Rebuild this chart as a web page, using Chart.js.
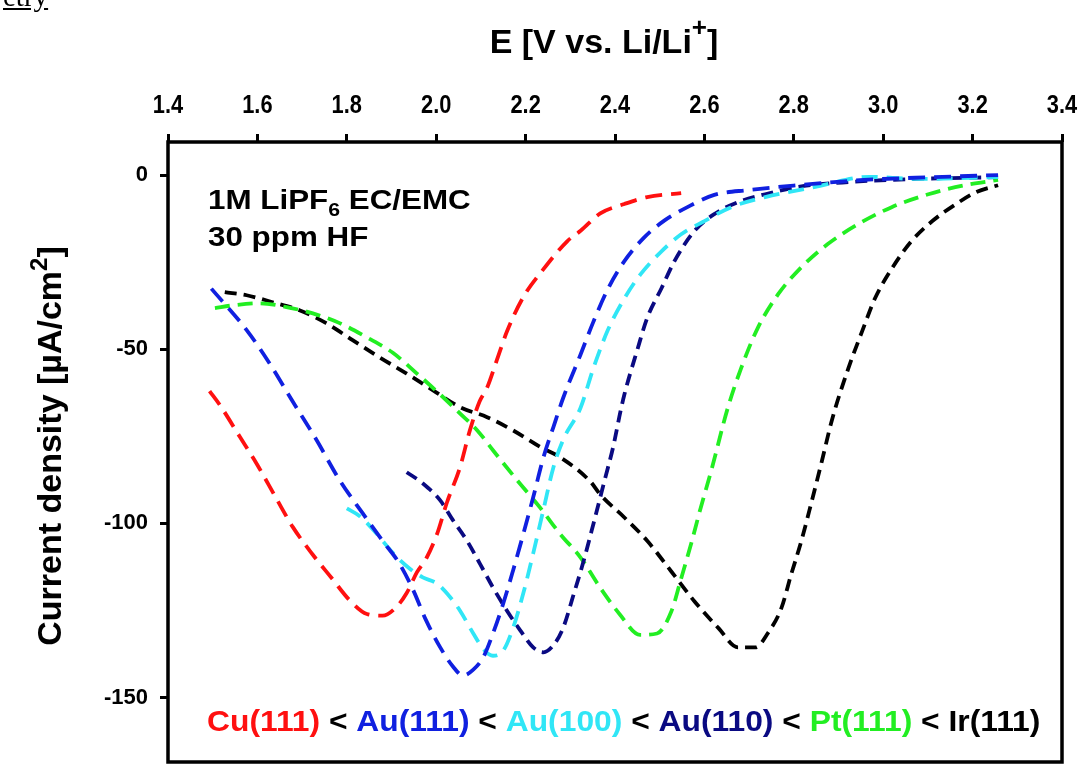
<!DOCTYPE html>
<html>
<head>
<meta charset="utf-8">
<script src="https://cdn.jsdelivr.net/npm/chart.js@4.4.1/dist/chart.umd.min.js"></script>
<style>
  html, body { margin: 0; padding: 0; background: #fff; }
  #wrap { position: relative; width: 1084px; height: 766px; overflow: hidden; }
  #clip { position: absolute; left: 3px; top: -19px; font: 29px/30px 'Liberation Serif', serif; text-decoration: underline; }
</style>
</head>
<body>
<div id="wrap">
  <canvas id="cv" width="1084" height="766"></canvas>
  <div id="clip">etry</div>
</div>
<script>
// Linear sweep voltammetry, HF reduction on single crystal electrodes
// values: E in V vs Li/Li+, j in uA/cm2

const X_TICKS = [1.4, 1.6, 1.8, 2.0, 2.2, 2.4, 2.6, 2.8, 3.0, 3.2, 3.4];
const Y_TICKS = [0, -50, -100, -150];

const E_CU = [1.493, 1.516, 1.560, 1.599, 1.643, 1.679, 1.724, 1.768, 1.806, 1.845, 1.880, 1.911, 1.934, 1.957, 1.978, 2.002, 2.024, 2.053, 2.076, 2.097, 2.114, 2.136, 2.158, 2.195, 2.240, 2.293, 2.323, 2.367, 2.421, 2.472, 2.548];
const J_CU = [-62, -66, -75, -83, -93, -101, -109, -116, -122, -126, -126.5, -124, -120, -114, -110, -103, -94, -84, -73, -65, -61, -53, -45, -35, -27, -19, -16, -11, -8.3, -6.3, -5.2];

const E_AU111 = [1.497, 1.576, 1.627, 1.679, 1.732, 1.784, 1.835, 1.880, 1.918, 1.948, 1.978, 2.009, 2.037, 2.060, 2.083, 2.105, 2.127, 2.150, 2.172, 2.195, 2.217, 2.240, 2.262, 2.284, 2.323, 2.352, 2.384, 2.421, 2.466, 2.511, 2.562, 2.622, 2.698, 2.809, 2.957, 3.110, 3.257];
const J_AU111 = [-32.6, -44.5, -54, -65, -76, -87.6, -97, -105, -111.6, -119, -128, -135.6, -141, -143.7, -142, -138.5, -131.6, -123, -113.5, -103, -92.5, -81, -72.4, -64, -51.5, -42, -32.7, -24.7, -17.8, -13, -9.2, -5.7, -4.3, -2.9, -1.4, -0.6, 0];

const E_AU100 = [1.800, 1.830, 1.867, 1.904, 1.941, 1.970, 2.002, 2.030, 2.053, 2.083, 2.105, 2.127, 2.150, 2.172, 2.195, 2.217, 2.240, 2.262, 2.284, 2.323, 2.352, 2.384, 2.421, 2.457, 2.504, 2.548, 2.600, 2.660, 2.736, 2.848, 2.968, 3.074, 3.257];
const J_AU100 = [-95.7, -98, -103, -108.6, -113, -115.5, -117.3, -121, -125, -131.6, -136, -138, -136.5, -130, -120, -108.6, -96, -84, -76, -66.8, -55.3, -44.5, -35.4, -28.5, -21.9, -17, -13.2, -9.2, -6.3, -3.4, -0.5, -1.1, -0.6];

const E_AU110 = [1.934, 1.970, 2.009, 2.037, 2.069, 2.098, 2.127, 2.158, 2.188, 2.217, 2.240, 2.262, 2.284, 2.306, 2.328, 2.352, 2.378, 2.396, 2.412, 2.421, 2.451, 2.472, 2.504, 2.533, 2.578, 2.622, 2.675, 2.736, 2.809, 2.922, 3.074, 3.257];
const J_AU110 = [-85.3, -88.5, -93.4, -99, -105, -111.6, -118.4, -125, -130.7, -135.6, -137, -135, -130, -121, -111.6, -100, -87, -78, -68, -63, -49.7, -41, -32.5, -24.7, -16, -11.2, -7.8, -5.5, -3.4, -2, -1.1, -0.6];

const E_PT = [1.505, 1.545, 1.605, 1.665, 1.724, 1.784, 1.845, 1.903, 1.957, 2.009, 2.053, 2.092, 2.127, 2.181, 2.232, 2.277, 2.323, 2.367, 2.410, 2.456, 2.494, 2.526, 2.548, 2.570, 2.592, 2.615, 2.652, 2.682, 2.719, 2.765, 2.815, 2.876, 2.945, 3.019, 3.101, 3.183, 3.257];
const J_PT = [-38.2, -37.4, -36.8, -37.9, -39.7, -42.5, -46.6, -51, -57, -63, -68.4, -73.3, -79, -87.6, -95.4, -103, -109.8, -118.5, -126, -132, -131.6, -125.3, -115.8, -106, -95.4, -85, -67, -55.5, -44, -34.2, -26.7, -19.8, -14, -9.2, -5.5, -2.9, -1.4];

const E_IR = [1.527, 1.576, 1.634, 1.694, 1.754, 1.813, 1.873, 1.934, 1.993, 2.053, 2.114, 2.172, 2.232, 2.277, 2.345, 2.367, 2.421, 2.472, 2.526, 2.578, 2.631, 2.675, 2.714, 2.743, 2.772, 2.794, 2.817, 2.840, 2.863, 2.886, 2.922, 2.953, 2.982, 3.020, 3.063, 3.110, 3.163, 3.208, 3.257];
const J_IR = [-33.6, -34.5, -36.5, -38.8, -42.5, -47.4, -52.3, -57, -61.8, -66.6, -69.5, -73.3, -78, -81, -88, -91.7, -98.3, -105, -113.8, -122.4, -130, -135.6, -135.6, -131.3, -124.4, -114.7, -105, -93.7, -82, -70, -55.5, -44.8, -35.3, -26.7, -19, -13.2, -8.3, -4.9, -2.9];

const LEGEND = ['Cu(111)', 'Au(111)', 'Au(100)', 'Au(110)', 'Pt(111)', 'Ir(111)'];
const COLORS = ['#ff1010', '#1020e0', '#30e6f6', '#0a0a82', '#22ee22', '#000000'];

function pts(xs, ys){
  return xs.map((x, i) => ({ x, y: ys[i] }));
}

function curve(i, xs, ys, dash){
  return {
    label: LEGEND[i],
    data: pts(xs, ys),
    borderColor: COLORS[i],
    borderWidth: 3.8,
    borderDash: dash,
    pointRadius: 0,
    showLine: true,
    fill: false,
    cubicInterpolationMode: 'monotone'
  };
}

const SANS = "'Liberation Sans', Arial, sans-serif";

// write text stretched horizontally by sx, returns advance
function stretched(ctx, text, x, y, font, sx){
  ctx.font = font;
  ctx.save();
  ctx.translate(x, y);
  ctx.scale(sx, 1);
  ctx.fillText(text, 0, 0);
  ctx.restore();
  return ctx.measureText(text).width * sx;
}

// frame + text that chart.js can't do (sub/superscripts, coloured ordering line)
const decor = {
  id: 'decor',
  afterDraw(chart){
    const ctx = chart.ctx;
    const a = chart.chartArea;
    ctx.save();
    ctx.strokeStyle = '#000';
    ctx.lineWidth = 3.5;
    ctx.strokeRect(a.left, a.top, a.right - a.left, a.bottom - a.top);

    ctx.fillStyle = '#000';
    ctx.textBaseline = 'alphabetic';

    // x tick labels, a bit condensed like the original
    const xs = chart.scales.x;
    ctx.textAlign = 'left';
    X_TICKS.forEach(v => {
      const s = v.toFixed(1);
      ctx.font = 'bold 26px ' + SANS;
      const w = ctx.measureText(s).width * 0.84;
      stretched(ctx, s, xs.getPixelForValue(v) - w / 2, 113, 'bold 26px ' + SANS, 0.84);
    });

    // x title
    const big = 'bold 34px ' + SANS, sup = 'bold 26px ' + SANS;
    ctx.font = big;
    const w1 = ctx.measureText('E [V vs. Li/Li').width;
    const w3 = ctx.measureText(']').width;
    ctx.font = sup;
    const w2 = ctx.measureText('+').width;
    let x = 604 - (w1 + w2 + w3) / 2;
    x += stretched(ctx, 'E [V vs. Li/Li', x, 53, big, 1);
    x += stretched(ctx, '+', x, 36, sup, 1);
    stretched(ctx, ']', x, 53, big, 1);

    // y title
    ctx.save();
    ctx.translate(61, 446);
    ctx.rotate(-Math.PI / 2);
    const yb = 'bold 34px ' + SANS, ys = 'bold 24px ' + SANS;
    ctx.font = yb;
    const yw1 = ctx.measureText('Current density [\u00b5A/cm').width;
    const yw3 = ctx.measureText(']').width;
    ctx.font = ys;
    const yw2 = ctx.measureText('2').width;
    let yx = -(yw1 + yw2 + yw3) / 2;
    yx += stretched(ctx, 'Current density [\u00b5A/cm', yx, 0, yb, 1);
    yx += stretched(ctx, '2', yx, -14, ys, 1);
    stretched(ctx, ']', yx, 0, yb, 1);
    ctx.restore();

    // electrolyte note
    const nf = 'bold 28px ' + SANS, nsub = 'bold 19px ' + SANS;
    let nx = 208;
    nx += stretched(ctx, '1M LiPF', nx, 209, nf, 1.12);
    nx += stretched(ctx, '6', nx, 216, nsub, 1.12);
    stretched(ctx, ' EC/EMC', nx, 209, nf, 1.12);
    stretched(ctx, '30 ppm HF', 208, 246, nf, 1.12);

    // ordering line
    const lf = 'bold 30px ' + SANS;
    let lx = 207;
    LEGEND.forEach((name, i) => {
      ctx.fillStyle = COLORS[i];
      lx += stretched(ctx, name, lx, 731, lf, 1.06);
      if (i < LEGEND.length - 1){
        ctx.fillStyle = '#000';
        lx += stretched(ctx, ' < ', lx, 731, lf, 1.06);
      }
    });
    ctx.restore();
  }
};

new Chart(document.getElementById('cv'), {
  type: 'scatter',
  data: {
    datasets: [
      curve(0, E_CU, J_CU, [17, 9]),
      curve(1, E_AU111, J_AU111, [17, 9]),
      curve(2, E_AU100, J_AU100, [16, 9]),
      curve(3, E_AU110, J_AU110, [12, 7]),
      curve(4, E_PT, J_PT, [15, 8]),
      curve(5, E_IR, J_IR, [12, 7])
    ]
  },
  options: {
    responsive: false,
    animation: false,
    layout: { padding: { left: 0, right: 22, top: 0, bottom: 4 } },
    plugins: {
      legend: { display: false },
      tooltip: { enabled: false }
    },
    scales: {
      x: {
        type: 'linear',
        position: 'top',
        min: 1.4,
        max: 3.4,
        afterBuildTicks: s => { s.ticks = X_TICKS.map(v => ({ value: v })); },
        afterFit: s => { s.height = 142; s.paddingLeft = 0; s.paddingRight = 0; },
        border: { display: false },
        grid: { drawOnChartArea: false, drawTicks: true, tickLength: 8, tickWidth: 3, color: '#000' },
        ticks: { display: false }
      },
      y: {
        type: 'linear',
        min: -168.5,
        max: 9.5,
        afterBuildTicks: s => { s.ticks = Y_TICKS.map(v => ({ value: v })); },
        afterFit: s => { s.width = 168; s.paddingTop = 0; s.paddingBottom = 0; },
        border: { display: false },
        grid: { drawOnChartArea: false, drawTicks: true, tickLength: 8, tickWidth: 3, color: '#000' },
        ticks: {
          color: '#000',
          padding: 12,
          font: { family: SANS, size: 22, weight: 'bold' }
        }
      }
    }
  },
  plugins: [decor]
});
</script>
</body>
</html>
